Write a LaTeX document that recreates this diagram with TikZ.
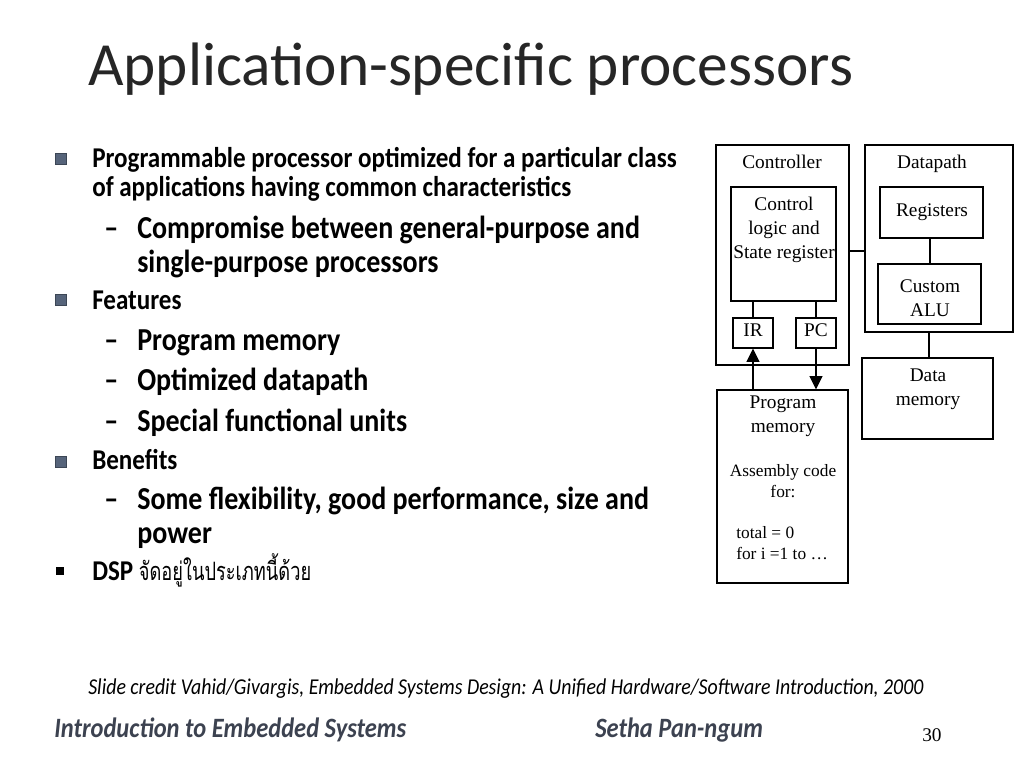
\documentclass[tikz,border=0pt]{standalone}
\usepackage{fontspec}
\setmainfont{Carlito}[FakeStretch=0.875]
\newfontfamily\titlefont{Carlito}
\newfontfamily\tms{Liberation Serif}
\newfontfamily\thaifont[Script=Thai,FakeStretch=0.72]{Loma}
\usetikzlibrary{arrows.meta,fit}
\definecolor{titlegray}{HTML}{262626}
\definecolor{bulletblue}{HTML}{56647A}
\definecolor{footgray}{HTML}{3C4250}
\tikzset{
  lone/.style={anchor=base west, inner sep=0pt, font=\fontsize{21.5}{24}\selectfont\bfseries},
  ltwo/.style={anchor=base west, inner sep=0pt, font=\fontsize{24}{28}\selectfont\bfseries},
  bul/.style={fill=bulletblue, draw=bulletblue!70!black, line width=0.3pt, minimum size=8pt, inner sep=0pt},
  dsh/.style={anchor=base west, inner sep=0pt, font=\fontsize{24}{28}\selectfont\bfseries},
  box/.style={draw, line width=0.8pt, inner sep=0pt},
  lbl/.style={inner sep=0pt, font=\tms\fontsize{14.5}{16}\selectfont, anchor=base},
  slbl/.style={inner sep=0pt, font=\tms\fontsize{13}{15}\selectfont, anchor=base},
  wire/.style={line width=1.3pt},
  arr/.style={line width=1.5pt, -{Triangle[width=9.5pt,length=10pt]}},
  foot/.style={anchor=base west, inner sep=0pt, text=footgray, font=\fontsize{21}{24}\selectfont\bfseries\itshape},
}
\begin{document}
\begin{tikzpicture}[x=0.75pt,y=-0.75pt]
\useasboundingbox (0,0) rectangle (1024,768);
\fill[white] (0,0) rectangle (1024,768);
% title
\node[anchor=base west, inner sep=0pt, text=titlegray, font=\titlefont\fontsize{46}{52}\selectfont] (title) at (88,85) {Application-specific processors};
% bullets and text
\node[bul] (b1) at (61,159) {};
\node[lone] (t1) at (92,167) {Programmable processor optimized for a particular class};
\node[lone] (t1b) at (92,196) {of applications having common characteristics};
\node[dsh] (d1) at (104,238) {--};
\node[ltwo] (t2) at (137,238) {Compromise between general-purpose and};
\node[ltwo] (t2b) at (137,272) {single-purpose processors};
\node[bul] (b2) at (61,300) {};
\node[lone] (t3) at (92,309) {Features};
\node[dsh] (d2) at (104,350) {--};
\node[ltwo] (t4) at (137,350) {Program memory};
\node[dsh] (d3) at (104,390) {--};
\node[ltwo] (t5) at (137,390) {Optimized datapath};
\node[dsh] (d4) at (104,431) {--};
\node[ltwo] (t6) at (137,431) {Special functional units};
\node[bul] (b3) at (61,462) {};
\node[lone] (t7) at (92,469) {Benefits};
\node[dsh] (d5) at (104,509) {--};
\node[ltwo] (t8) at (137,509) {Some flexibility, good performance, size and};
\node[ltwo] (t8b) at (137,543) {power};
\node[fill=black, minimum size=6.5pt, inner sep=0pt] (b4) at (60,571) {};
\node[lone] (t9) at (92,580) {DSP {\thaifont\mdseries\fontsize{19}{21}\selectfont จัดอยู่ในประเภทนี้ด้วย}};
% diagram
\node[box, fit={(716,145) (849,365)}] (ctrl) {};
\node[box, fit={(865,145) (1013,332)}] (dp) {};
\node[box, fit={(731,187) (836,301)}] (cl) {};
\node[box, fit={(880,187) (983,238)}] (reg) {};
\node[box, fit={(878,264) (981,324)}] (alu) {};
\node[box, fit={(733,318) (773,348)}] (ir) {};
\node[box, fit={(796,318) (836,348)}] (pc) {};
\node[box, fit={(862,358) (993,439)}] (dm) {};
\node[box, fit={(717,390) (848,583)}] (pm) {};
\node[lbl] (lctrl) at (782,168) {Controller};
\node[lbl] (ldp) at (932,168) {Datapath};
\node[lbl] (lcl1) at (784,210) {Control};
\node[lbl] (lcl2) at (784,234) {logic and};
\node[lbl] (lcl3) at (784,258) {State register};
\node[lbl] (lreg) at (932,216) {Registers};
\node[lbl] (lalu1) at (930,292) {Custom};
\node[lbl] (lalu2) at (930,316) {ALU};
\node[lbl] (lir) at (753,336) {IR};
\node[lbl] (lpc) at (816,336) {PC};
\node[lbl] (ldm1) at (928,381) {Data};
\node[lbl] (ldm2) at (928,405) {memory};
\node[lbl] (lpm1) at (783,408) {Program};
\node[lbl] (lpm2) at (783,432) {memory};
\node[slbl] (lpm3) at (783,476) {Assembly code};
\node[slbl] (lpm4) at (783,497) {for:};
\node[slbl, anchor=base west] (lpm5) at (736,538) {total = 0};
\node[slbl, anchor=base west] (lpm6) at (736,559) {for i =1 to \dots};
% connectors
\draw[wire] (ctrl.east |- 0,251) -- (dp.west |- 0,251);
\draw[wire] (reg.south -| 930,0) -- (alu.north -| 930,0);
\draw[wire] (dp.south -| 929,0) -- (dm.north -| 929,0);
\draw[wire] (cl.south -| ir.north) -- (ir.north);
\draw[wire] (cl.south -| pc.north) -- (pc.north);
\draw[arr] (pm.north -| ir.south) -- (ir.south);
\draw[arr] (pc.south) -- (pm.north -| pc.south);
% footer
\node[anchor=base west, inner sep=0pt, font=\fontsize{17}{20}\selectfont\itshape] (credit) at (88,694) {Slide credit Vahid/Givargis, Embedded Systems Design: A Unified Hardware/Software Introduction, 2000};
\node[foot] (f1) at (54,737) {Introduction to Embedded Systems};
\node[foot] (f2) at (595,737) {Setha Pan-ngum};
\node[anchor=base west, inner sep=0pt, font=\tms\fontsize{14.5}{16}\selectfont] (f3) at (922,741) {30};
\end{tikzpicture}
\end{document}
